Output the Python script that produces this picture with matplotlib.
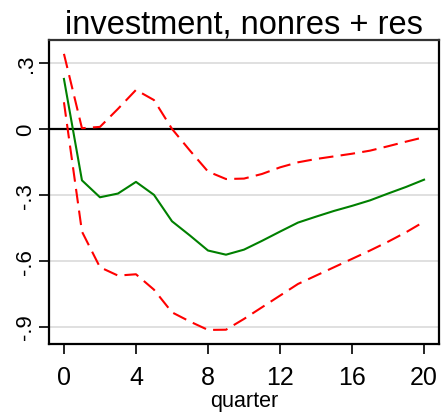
import numpy as np
import matplotlib
matplotlib.use('Agg')
import matplotlib.pyplot as plt

plt.rcParams['font.family'] = ['Liberation Sans', 'DejaVu Sans']

quarter = list(range(21))
irf = [0.226, -0.235, -0.312, -0.295, -0.242, -0.301, -0.421, -0.486, -0.554, -0.573,
       -0.55, -0.51, -0.468, -0.427, -0.40, -0.374, -0.351, -0.326, -0.295, -0.265, -0.232]
upper = [0.34, 0.002, 0.008, 0.09, 0.176, 0.13, -0.001, -0.1, -0.195, -0.229,
         -0.227, -0.206, -0.176, -0.153, -0.138, -0.126, -0.114, -0.1, -0.08, -0.059, -0.039]
lower = [0.12, -0.468, -0.63, -0.668, -0.662, -0.732, -0.835, -0.877, -0.915, -0.914,
         -0.865, -0.812, -0.759, -0.706, -0.668, -0.63, -0.592, -0.554, -0.514, -0.471, -0.423]
yticks = [0.3, 0, -0.3, -0.6, -0.9]
ylabels = ['.3', '0', '-.3', '-.6', '-.9']
xticks = [0, 4, 8, 12, 16, 20]

fig = plt.figure(figsize=(4.43, 4.14), dpi=100)
ax = fig.add_axes([49/443, 69/414, 390/443, 304/414])

for y in yticks:
    if y != 0:
        ax.axhline(y, color='#dddddd', lw=1.3, zorder=0)
ax.axhline(0, color='black', lw=1.6, zorder=1)

ax.plot(quarter, upper, color='red', lw=1.5, dashes=(7, 3.5), zorder=3)
ax.plot(quarter, lower, color='red', lw=1.5, dashes=(7, 3.5), zorder=3)
ax.plot(quarter, irf, color='green', lw=1.5, zorder=2)

ax.set_xlim(-0.83, 20.83)
ax.set_ylim(-0.979, 0.403)
ax.set_xticks(xticks)
ax.set_xticklabels([str(x) for x in xticks], fontsize=18)
ax.set_yticks(yticks)
ax.set_yticklabels(ylabels, fontsize=16, rotation=90, va='center')
ax.tick_params(direction='out', length=7, width=1.2)
ax.tick_params(axis='x', pad=8)
ax.tick_params(axis='y', pad=2)
for s in ax.spines.values():
    s.set_linewidth(1.6)
ax.spines['top'].set_color('#333333')

ax.set_xlabel('quarter', fontsize=15.5, labelpad=1)
ax.set_title('investment, nonres + res', fontsize=23.5, pad=3)

fig.savefig('out.png', dpi=100)
